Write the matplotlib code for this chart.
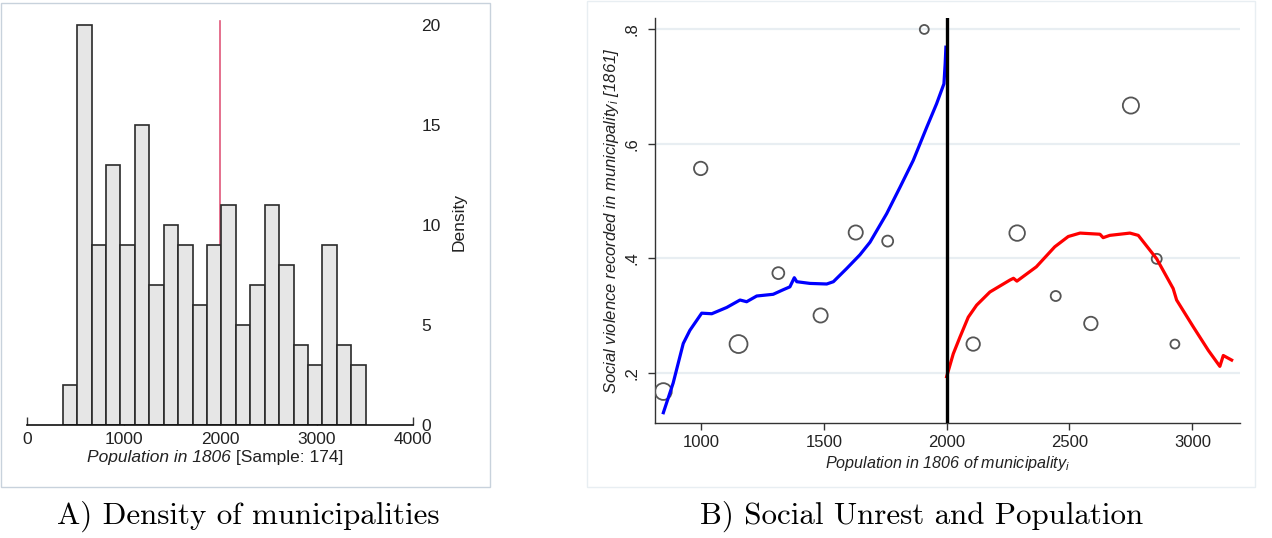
import matplotlib.pyplot as plt
import numpy as np

# --- histogram of municipalities by 1806 population ---
hist_counts = [2, 20, 9, 13, 9, 15, 7, 10, 9, 6, 9, 11, 5, 7, 11, 8, 4, 3, 9, 4, 3]
bin_start = 370
bin_width = 149.5
cutoff = 2000

# --- local fits on both sides of the cutoff ---
pop_left = [847, 887, 928, 955, 1003, 1044, 1105, 1159, 1186, 1227, 1294, 1335, 1362,
            1380, 1390, 1444, 1512, 1539, 1593, 1647, 1688, 1756, 1810, 1864, 1919,
            1959, 1989, 1994, 1997]
unrest_left = [0.130, 0.182, 0.251, 0.274, 0.304, 0.303, 0.314, 0.327, 0.324, 0.334, 0.337,
               0.345, 0.350, 0.366, 0.359, 0.356, 0.355, 0.359, 0.382, 0.406, 0.428, 0.478,
               0.524, 0.571, 0.629, 0.670, 0.705, 0.740, 0.769]

pop_right = [2000, 2027, 2054, 2088, 2122, 2176, 2258, 2272, 2286, 2365, 2440, 2495, 2543,
             2583, 2624, 2637, 2664, 2746, 2780, 2855, 2922, 2936, 3004, 3065, 3112, 3126,
             3160]
unrest_right = [0.193, 0.233, 0.262, 0.297, 0.318, 0.341, 0.362, 0.365, 0.360, 0.385, 0.420,
                0.438, 0.444, 0.443, 0.442, 0.436, 0.440, 0.444, 0.440, 0.399, 0.347, 0.327,
                0.280, 0.239, 0.211, 0.230, 0.222]

# binned means, marker area follows number of municipalities in the bin
bin_pop = [847, 999, 1153, 1315, 1487, 1630, 1760, 1909, 2108, 2287, 2444, 2587, 2750, 2855, 2929]
bin_unrest = [0.167, 0.557, 0.250, 0.374, 0.300, 0.445, 0.430, 0.800, 0.250, 0.444, 0.334,
              0.286, 0.667, 0.399, 0.250]
bin_n = [14, 9, 16, 7, 10, 10, 6, 4, 9, 12, 5, 9, 13, 5, 4]

plt.rcParams['font.family'] = ['Liberation Sans', 'DejaVu Sans']
plt.rcParams['mathtext.fontset'] = 'custom'
plt.rcParams['mathtext.rm'] = 'Liberation Sans'
plt.rcParams['mathtext.it'] = 'Liberation Sans:italic'

W, H = 1272, 538
fig = plt.figure(figsize=(W / 100, H / 100), dpi=100)


def px_box(x0, y_top, x1, y_bottom):
    # pixel box (top-left origin) -> figure fraction rect
    return [x0 / W, 1 - y_bottom / H, (x1 - x0) / W, (y_bottom - y_top) / H]


text_col = '#222222'

# ---------------- panel A ----------------
ax1 = fig.add_axes(px_box(27, 5, 413, 425))
edges = bin_start + bin_width * np.arange(len(hist_counts))
ax1.axvline(cutoff, ymin=0, ymax=20.2 / 21, color='#e0587a', lw=1.2, zorder=1)
ax1.bar(edges, hist_counts, width=bin_width, align='edge', color='#e6e6e6',
        edgecolor='#2a2a2a', lw=1.2, zorder=2)
ax1.set_xlim(0, 4000)
ax1.set_ylim(0, 21)
ax1.set_xticks([0, 1000, 2000, 3000, 4000])
ax1.set_yticks([0, 5, 10, 15, 20])
for s in ['top', 'left', 'right']:
    ax1.spines[s].set_visible(False)
ax1.spines['bottom'].set_color('#111111')
ax1.spines['bottom'].set_linewidth(1.2)
ax1.tick_params(axis='x', direction='in', length=6, width=1, color='#333333',
                labelsize=12.5, labelcolor=text_col, pad=5)
ax1.yaxis.tick_right()
ax1.yaxis.set_label_position('right')
ax1.tick_params(axis='y', length=0, labelsize=12.5, labelcolor=text_col, pad=6)
ax1.set_ylabel('Density', fontsize=12.5, color=text_col)
ax1.yaxis.set_label_coords(1.10, 0.483)

# x label: italic variable name followed by upright sample note
lab_a = fig.text(87 / W, 1 - 462 / H, 'Population in 1806', fontsize=12.5, style='italic',
                 color=text_col, ha='left', va='baseline')
ax1.annotate(' [Sample: 174]', xy=(1, 0), xycoords=lab_a, fontsize=12.5, color=text_col,
             ha='left', va='bottom')

# ---------------- panel B ----------------
ax2 = fig.add_axes(px_box(655, 18, 1240, 423))
for yv in [0.2, 0.4, 0.6, 0.8]:
    ax2.axhline(yv, color='#e8eef2', lw=1.6, zorder=0)
ax2.scatter(bin_pop, bin_unrest, s=np.array(bin_n) * 10.4, facecolors='none',
            edgecolors='#555555', linewidths=1.3, zorder=3)
ax2.plot(pop_left, unrest_left, color='#0000ff', lw=2.3, zorder=4)
ax2.plot(pop_right, unrest_right, color='#ff0000', lw=2.3, zorder=4)
ax2.axvline(cutoff, color='black', lw=2.4, zorder=5)
ax2.set_xlim(813, 3194)
ax2.set_ylim(0.112, 0.820)
ax2.set_xticks([1000, 1500, 2000, 2500, 3000])
ax2.set_yticks([0.2, 0.4, 0.6, 0.8], ['.2', '.4', '.6', '.8'])
for s in ['top', 'right']:
    ax2.spines[s].set_visible(False)
for s in ['left', 'bottom']:
    ax2.spines[s].set_color('#333333')
    ax2.spines[s].set_linewidth(1.0)
ax2.tick_params(axis='both', length=5, width=1, color='#333333', labelsize=12,
                labelcolor=text_col)
ax2.tick_params(axis='y', labelrotation=90, pad=6)
for lbl in ax2.get_yticklabels():
    lbl.set_va('center')
ax2.set_xlabel('Population in 1806 of municipality$_i$', fontsize=11.6, style='italic',
               color=text_col, labelpad=3)
ax2.set_ylabel('Social violence recorded in municipality$_i$ [1861]', fontsize=12,
               style='italic', color=text_col, labelpad=3)

# panel frames
fig.add_artist(plt.Rectangle((0.5 / W, 1 - 487 / H), 489 / W, 484 / H, transform=fig.transFigure,
                             fill=False, ec='#c8d2dc', lw=1))
fig.add_artist(plt.Rectangle((587 / W, 1 - 487 / H), 668 / W, 486 / H, transform=fig.transFigure,
                             fill=False, ec='#e8eef2', lw=1))

# captions
fig.text(248 / W, 1 - 516 / H, 'A) Density of municipalities', family='cmr10', fontsize=22.3,
         ha='center', va='center', color='black')
fig.text(922 / W, 1 - 516 / H, 'B) Social Unrest and Population', family='cmr10', fontsize=22.3,
         ha='center', va='center', color='black')

fig.savefig('out.png', dpi=100)
